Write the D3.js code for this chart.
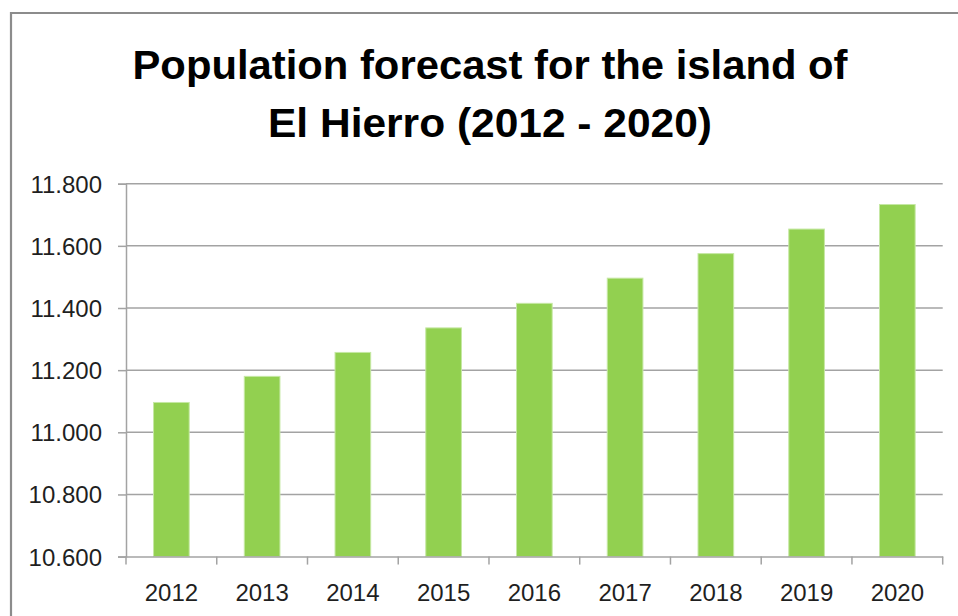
<!DOCTYPE html>
<html>
<head>
<meta charset="utf-8">
<script src="https://cdn.jsdelivr.net/npm/d3@7/dist/d3.min.js"></script>
<style>
  html, body { margin: 0; padding: 0; background: #fff; }
  svg { display: block; }
</style>
</head>
<body>
<svg id="chart" width="958" height="616"></svg>
<script>
const titleLines = ["Population forecast for the island of", "El Hierro (2012 - 2020)"];
const years = ["2012", "2013", "2014", "2015", "2016", "2017", "2018", "2019", "2020"];
const population = [11096, 11180, 11257, 11336, 11415, 11496, 11575, 11654, 11733];
const yTicks = [10600, 10800, 11000, 11200, 11400, 11600, 11800];
const yDomain = [10600, 11800];

(function () {
const svg = d3.select("#chart");
const plotL = 126, plotR = 942.7, plotT = 183.7, plotB = 556.6;

// outer border (continues beyond window on right/bottom)
svg.append("path")
  .attr("d", "M11,620 L11,13 L962,13")
  .attr("fill", "none").attr("stroke", "#8c8c8c").attr("stroke-width", 2.2);

// title
const tLens = [715, 444];
const tBase = [79, 137];
svg.selectAll("text.title").data(titleLines).join("text")
  .attr("class", "title")
  .attr("x", 490).attr("y", (d, i) => tBase[i])
  .attr("text-anchor", "middle")
  .attr("font-family", "Liberation Sans, Arial, sans-serif")
  .attr("font-weight", "bold").attr("font-size", 40)
  .attr("textLength", (d, i) => tLens[i]).attr("lengthAdjust", "spacingAndGlyphs")
  .attr("fill", "#000").text(d => d);

const x = d3.scaleBand().domain(years).range([plotL, plotR]).paddingInner(0).paddingOuter(0);
const y = d3.scaleLinear().domain(yDomain).range([plotB, plotT]);

const gridColor = "#a3a3a3";

// gridlines + y ticks
const yAxis = d3.axisLeft(y).tickValues(yTicks).tickSize(8)
  .tickFormat(d => d3.format(",")(d).replace(",", "."));
const gy = svg.append("g").attr("transform", `translate(${plotL},0)`).call(yAxis);
gy.select(".domain").attr("stroke", gridColor).attr("stroke-width", 1.5);
gy.selectAll(".tick line").attr("stroke", gridColor).attr("stroke-width", 1.5);
gy.selectAll(".tick text")
  .attr("x", -24).attr("dy", "0.35em")
  .attr("font-family", "Liberation Sans, Arial, sans-serif")
  .attr("font-size", 24).attr("fill", "#1f1f1f");

svg.append("g").selectAll("line").data(yTicks.slice(1)).join("line")
  .attr("x1", plotL).attr("x2", plotR)
  .attr("y1", d => y(d)).attr("y2", d => y(d))
  .attr("stroke", gridColor).attr("stroke-width", 1.5);

// bars
const barW = x.bandwidth() * 0.393;
svg.append("g").selectAll("rect").data(population).join("rect")
  .attr("x", (d, i) => x(years[i]) + (x.bandwidth() - barW) / 2)
  .attr("y", d => y(d))
  .attr("width", barW)
  .attr("height", d => y(yDomain[0]) - y(d))
  .attr("fill", "#92d050")
  .attr("stroke", "#c6e8a4").attr("stroke-width", 1);

// x axis
const xAxis = d3.axisBottom(x).tickSize(0).tickSizeOuter(0);
const gx = svg.append("g").attr("transform", `translate(0,${plotB})`).call(xAxis);
gx.select(".domain").attr("stroke", gridColor).attr("stroke-width", 1.5);
gx.selectAll(".tick text")
  .attr("y", 44).attr("dy", 0)
  .attr("font-family", "Liberation Sans, Arial, sans-serif")
  .attr("font-size", 24).attr("fill", "#1f1f1f");

// x tick marks at category boundaries
const bounds = years.map(yr => x(yr)).concat([plotR]);
svg.append("g").selectAll("line").data(bounds).join("line")
  .attr("x1", d => d).attr("x2", d => d)
  .attr("y1", plotB).attr("y2", plotB + 8)
  .attr("stroke", gridColor).attr("stroke-width", 1.5);
})();
</script>
</body>
</html>
